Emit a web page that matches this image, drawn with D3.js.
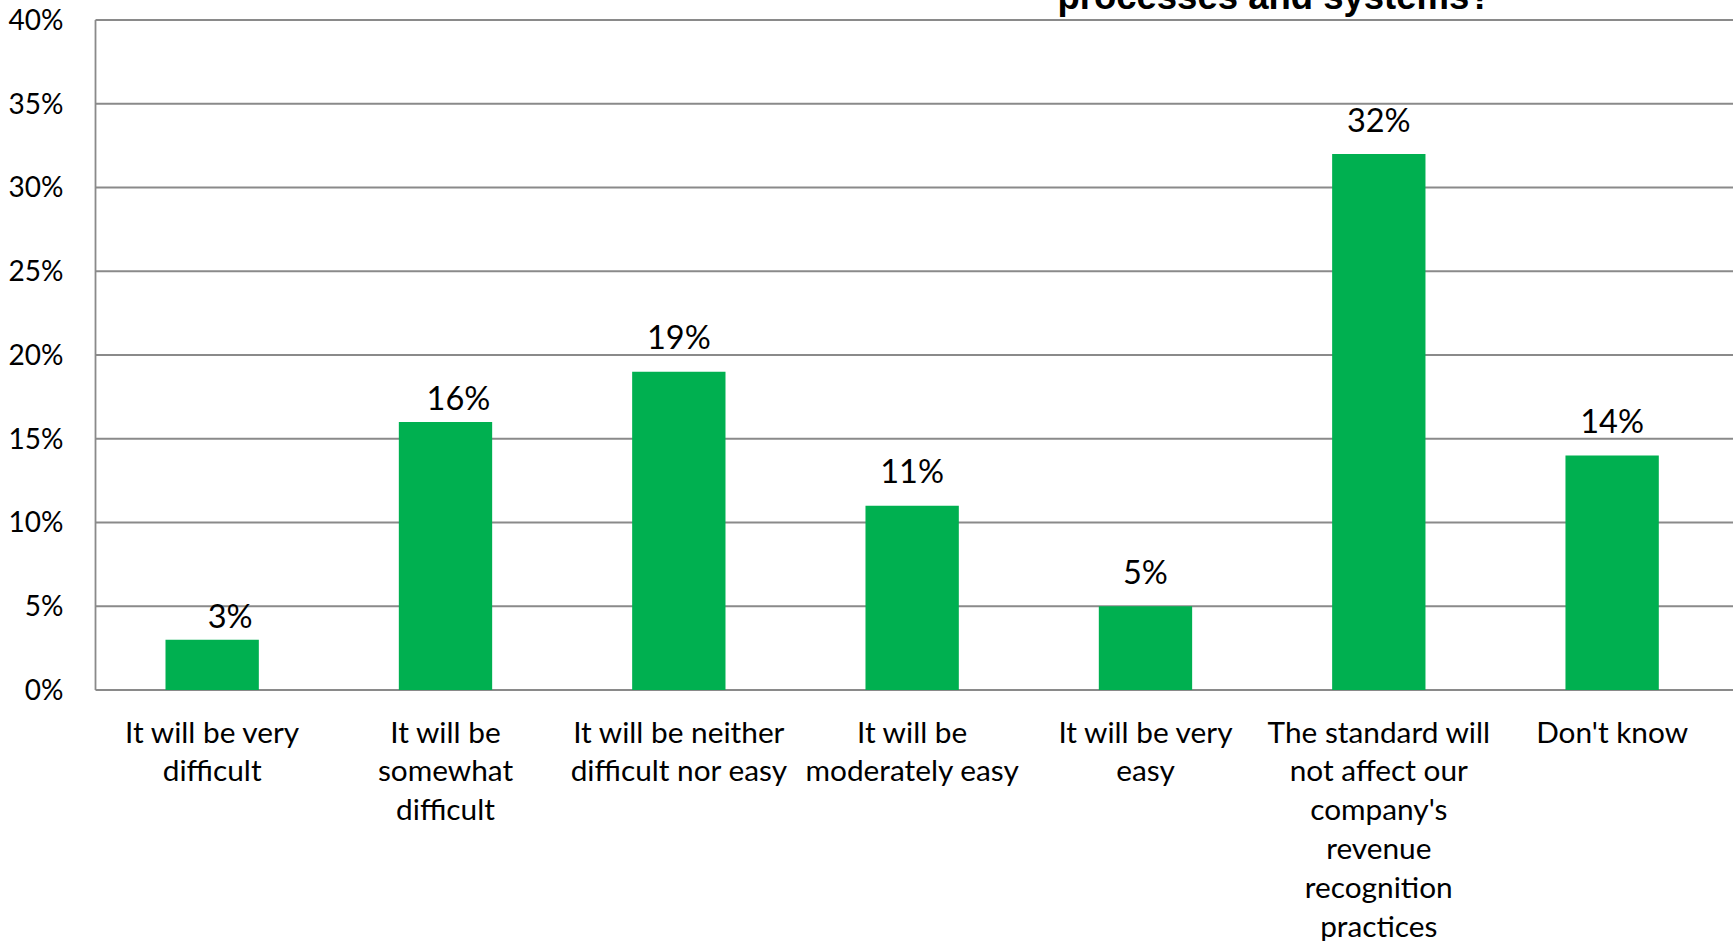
<!DOCTYPE html>
<html>
<head>
<meta charset="utf-8">
<script src="https://cdnjs.cloudflare.com/ajax/libs/d3/7.8.5/d3.min.js"></script>
<style>
  html, body { margin: 0; padding: 0; background: #fff; }
  svg { display: block; }
</style>
</head>
<body>
<div id="chart"></div>
<script>
// data
const categories = [
    ["It will be very", "difficult"],
    ["It will be", "somewhat", "difficult"],
    ["It will be neither", "difficult nor easy"],
    ["It will be", "moderately easy"],
    ["It will be very", "easy"],
    ["The standard will", "not affect our", "company's", "revenue", "recognition", "practices"],
    ["Don't know"]
];
const values = [3, 16, 19, 11, 5, 32, 14];
const yTicks = [0, 5, 10, 15, 20, 25, 30, 35, 40];
const titleText = "processes and systems?";

const width = 1733, height = 941;
const plot = { left: 95.5, right: 1728.8, top: 20, bottom: 690 };
const green = '#00B050';
const grey = '#8a8a8a';
const labelFont = 'Lato, "Open Sans", sans-serif';

// a couple of value labels are shifted in the original
const labelNudge = [[18, 11], [13, 10.5], [0, 0], [0, 0], [0, 0], [0, 0], [0, 0]];

const svg = d3.select('#chart').append('svg')
    .attr('width', width)
    .attr('height', height);

const x = d3.scaleBand()
    .domain(d3.range(values.length))
    .range([plot.left, plot.right])
    .paddingInner(0.6)
    .paddingOuter(0.3);

const y = d3.scaleLinear()
    .domain([0, 40])
    .range([plot.bottom, plot.top]);

// gridlines
svg.append('g')
    .selectAll('line')
    .data(yTicks)
    .enter().append('line')
    .attr('x1', plot.left)
    .attr('x2', width)
    .attr('y1', d => y(d))
    .attr('y2', d => y(d))
    .style('stroke', grey)
    .style('stroke-width', 1.8);

// left axis line
svg.append('line')
    .attr('x1', plot.left).attr('x2', plot.left)
    .attr('y1', y(40)).attr('y2', y(0))
    .style('stroke', grey)
    .style('stroke-width', 1.8);

// y tick labels
svg.append('g')
    .selectAll('text')
    .data(yTicks)
    .enter().append('text')
    .attr('x', 63.5)
    .attr('y', d => y(d))
    .attr('dy', '0.35em')
    .style('text-anchor', 'end')
    .style('font-family', labelFont)
    .style('font-size', '28px')
    .style('fill', '#000')
    .text(d => d + '%');

// bars
svg.append('g')
    .selectAll('rect')
    .data(values)
    .enter().append('rect')
    .attr('x', (d, i) => x(i))
    .attr('width', x.bandwidth())
    .attr('y', d => y(d))
    .attr('height', d => y(0) - y(d))
    .style('fill', green);

// value labels
svg.append('g')
    .selectAll('text')
    .data(values)
    .enter().append('text')
    .attr('x', (d, i) => x(i) + x.bandwidth() / 2 + labelNudge[i][0])
    .attr('y', (d, i) => y(d) - 22.5 + labelNudge[i][1])
    .style('text-anchor', 'middle')
    .style('font-family', labelFont)
    .style('font-size', '32.5px')
    .style('fill', '#000')
    .text(d => d + '%');

// category labels
const cat = svg.append('g')
    .selectAll('text')
    .data(categories)
    .enter().append('text')
    .attr('y', 742.5)
    .style('text-anchor', 'middle')
    .style('font-family', labelFont)
    .style('font-size', '29.8px')
    .style('fill', '#000');

cat.selectAll('tspan')
    .data((d, i) => d.map(line => ({ line, i })))
    .enter().append('tspan')
    .attr('x', d => x(d.i) + x.bandwidth() / 2)
    .attr('dy', (d, j) => j === 0 ? 0 : 38.8)
    .text(d => d.line);

// title (only its last line shows in the frame)
svg.append('text')
    .attr('x', 1274.5)
    .attr('y', 9)
    .style('text-anchor', 'middle')
    .style('font-family', '"Liberation Sans", Arial, sans-serif')
    .style('font-weight', 'bold')
    .style('font-size', '36.5px')
    .style('fill', '#000')
    .text(titleText);
</script>
</body>
</html>
